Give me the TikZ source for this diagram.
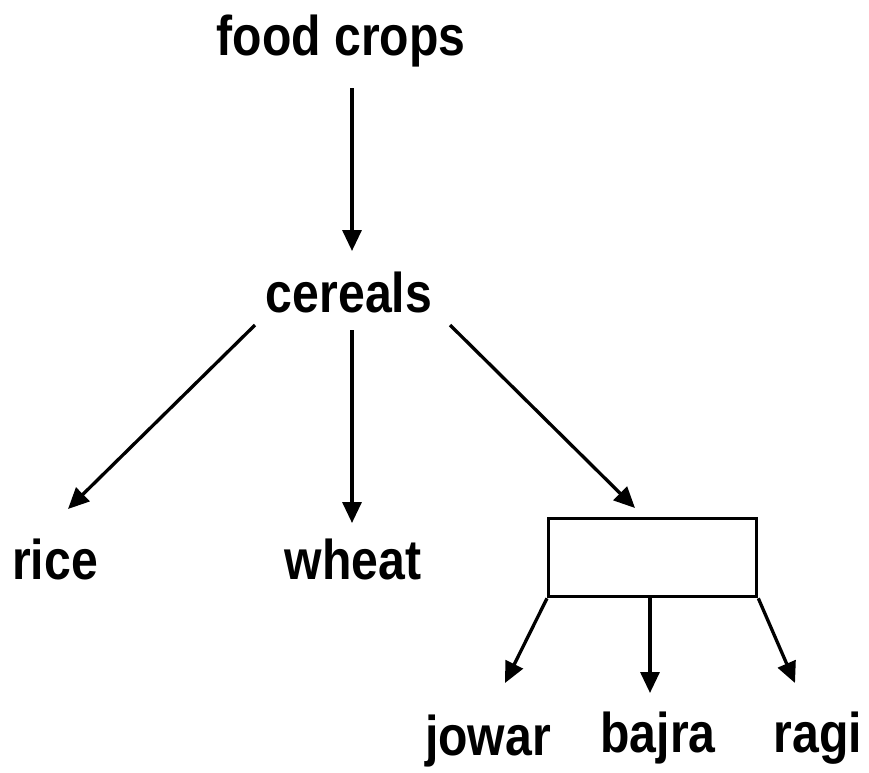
\documentclass[tikz,border=0pt]{standalone}
\usepackage{fontspec}
\newfontfamily\labfont{Liberation Sans}[FakeStretch=0.86]
\usetikzlibrary{arrows.meta}
\begin{document}
\begin{tikzpicture}[x=1pt,y=-1pt,
  lbl/.style={font=\labfont\bfseries\fontsize{56}{60}\selectfont, anchor=base, inner sep=0pt},
  arr/.style={line width=3.3pt, -{Triangle[length=21pt,width=19pt]}},
  boxst/.style={draw, line width=3.3pt, minimum width=208pt, minimum height=78pt, inner sep=0pt, anchor=north west}]
\useasboundingbox (0,0) rectangle (869,772);
% nodes
\node[lbl] (fc) at (341,55) {food crops};
\node[lbl] (cer) at (349,312) {cereals};
\node[lbl] (rice) at (55,579) {rice};
\node[lbl] (wheat) at (353,579) {wheat};
\node[boxst] (box) at (547,517) {};
\node[lbl] (jowar) at (488,755) {jowar};
\node[lbl] (bajra) at (658,752) {bajra};
\node[lbl] (ragi) at (818,752) {ragi};
% connector end points
\coordinate (fcS) at (352,88);
\coordinate (cerN) at (352,251);
\coordinate (cerL) at (255,325);
\coordinate (cerM) at (352,330);
\coordinate (cerR) at (450,325);
\coordinate (riceN) at (68,509);
\coordinate (wheatN) at (352,523);
\coordinate (boxN) at (635,508);
\coordinate (boxM) at (650,595);
\coordinate (jowarN) at (505,683);
\coordinate (bajraN) at (650,693);
\coordinate (ragiN) at (795,683);
% connectors
\draw[arr] (fcS) -- (cerN);
\draw[arr] (cerL) -- (riceN);
\draw[arr] (cerM) -- (wheatN);
\draw[arr] (cerR) -- (boxN);
\draw[arr] (box.south west) -- (jowarN);
\draw[arr] (boxM) -- (bajraN);
\draw[arr] (box.south east) -- (ragiN);
\end{tikzpicture}
\end{document}
